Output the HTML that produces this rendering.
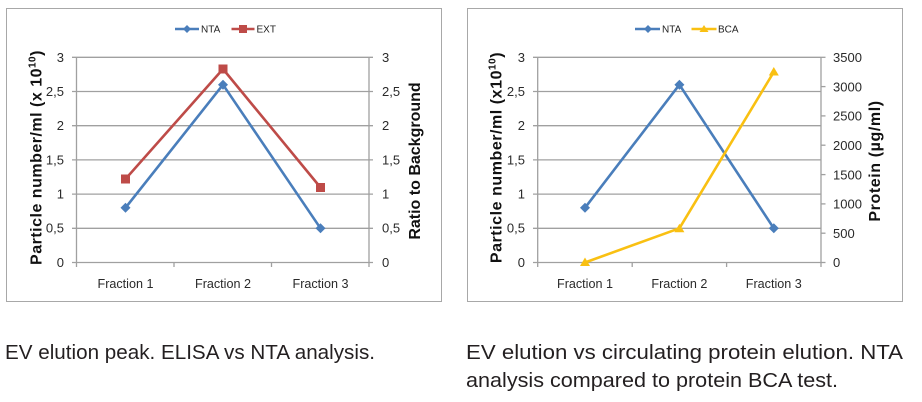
<!DOCTYPE html>
<html><head><meta charset="utf-8"><style>
html,body{margin:0;padding:0;background:#fff;}
svg{display:block;}
text{font-family:"Liberation Sans",sans-serif;}
</style></head><body>
<svg width="922" height="402" viewBox="0 0 922 402" xmlns="http://www.w3.org/2000/svg">
<rect width="922" height="402" fill="#fff"/>

<!-- ============ LEFT CHART ============ -->
<rect x="6.5" y="8.5" width="435" height="293" fill="#fff" stroke="#a8a8a8" stroke-width="1"/>
<g stroke="#a0a0a0" stroke-width="1.3" fill="none">
  <line x1="72" y1="57.3" x2="373" y2="57.3"/>
  <line x1="72" y1="91.5" x2="373" y2="91.5"/>
  <line x1="72" y1="125.7" x2="373" y2="125.7"/>
  <line x1="72" y1="159.9" x2="373" y2="159.9"/>
  <line x1="72" y1="194.1" x2="373" y2="194.1"/>
  <line x1="72" y1="228.3" x2="373" y2="228.3"/>
  <line x1="72" y1="262.5" x2="373" y2="262.5"/>
  <line x1="76.5" y1="57.3" x2="76.5" y2="267"/>
  <line x1="369" y1="57.3" x2="369" y2="267"/>
  <line x1="174" y1="262.5" x2="174" y2="267"/>
  <line x1="271.5" y1="262.5" x2="271.5" y2="267"/>
</g>
<g font-size="13" fill="#2a2a2a" text-anchor="end">
  <text x="64" y="62">3</text>
  <text x="64" y="96">2,5</text>
  <text x="64" y="130">2</text>
  <text x="64" y="164.5">1,5</text>
  <text x="64" y="198.5">1</text>
  <text x="64" y="232.5">0,5</text>
  <text x="64" y="267">0</text>
</g>
<g font-size="13" fill="#2a2a2a" text-anchor="start">
  <text x="382" y="62">3</text>
  <text x="382" y="96">2,5</text>
  <text x="382" y="130">2</text>
  <text x="382" y="164.5">1,5</text>
  <text x="382" y="198.5">1</text>
  <text x="382" y="232.5">0,5</text>
  <text x="382" y="267">0</text>
</g>
<g font-size="13" fill="#2a2a2a">
  <text x="97.5" y="288" textLength="56" lengthAdjust="spacingAndGlyphs">Fraction 1</text>
  <text x="195" y="288" textLength="56" lengthAdjust="spacingAndGlyphs">Fraction 2</text>
  <text x="292.5" y="288" textLength="56" lengthAdjust="spacingAndGlyphs">Fraction 3</text>
</g>
<text transform="translate(41.5,157.5) rotate(-90)" text-anchor="middle" font-size="16" font-weight="bold" fill="#111" letter-spacing="0.5">Particle number/ml (x 10<tspan font-size="10" dy="-6">10</tspan><tspan dy="6">)</tspan></text>
<text transform="translate(420,161) rotate(-90)" text-anchor="middle" font-size="16" font-weight="bold" fill="#111">Ratio to Background</text>
<!-- series EXT -->
<polyline points="125.5,179 223,69 320.5,187.5" fill="none" stroke="#be4b48" stroke-width="2.6" stroke-linejoin="round"/>
<rect x="121" y="174.5" width="9" height="9" fill="#be4b48"/>
<rect x="218.5" y="64.5" width="9" height="9" fill="#be4b48"/>
<rect x="316" y="183" width="9" height="9" fill="#be4b48"/>
<!-- series NTA -->
<polyline points="125.5,207.8 223,84.7 320.5,228.3" fill="none" stroke="#4a7ebb" stroke-width="2.6" stroke-linejoin="round"/>
<path d="M125.5 202.8 L130.5 207.8 L125.5 212.8 L120.5 207.8Z" fill="#4a7ebb"/>
<path d="M223 79.7 L228 84.7 L223 89.7 L218 84.7Z" fill="#4a7ebb"/>
<path d="M320.5 223.3 L325.5 228.3 L320.5 233.3 L315.5 228.3Z" fill="#4a7ebb"/>
<!-- legend -->
<line x1="175" y1="29" x2="199" y2="29" stroke="#4a7ebb" stroke-width="2.6"/>
<path d="M187 25 L191 29 L187 33 L183 29Z" fill="#4a7ebb"/>
<text x="201" y="32.5" font-size="10" fill="#222">NTA</text>
<line x1="231.5" y1="29" x2="254.5" y2="29" stroke="#be4b48" stroke-width="2.6"/>
<rect x="239" y="25" width="8" height="8" fill="#be4b48"/>
<text x="256.5" y="32.5" font-size="10" fill="#222">EXT</text>

<!-- ============ RIGHT CHART ============ -->
<rect x="467.5" y="8.5" width="435" height="293" fill="#fff" stroke="#a8a8a8" stroke-width="1"/>
<g stroke="#a0a0a0" stroke-width="1.3" fill="none">
  <line x1="533" y1="57.3" x2="821" y2="57.3"/>
  <line x1="533" y1="91.5" x2="821" y2="91.5"/>
  <line x1="533" y1="125.7" x2="821" y2="125.7"/>
  <line x1="533" y1="159.9" x2="821" y2="159.9"/>
  <line x1="533" y1="194.1" x2="821" y2="194.1"/>
  <line x1="533" y1="228.3" x2="821" y2="228.3"/>
  <line x1="533" y1="262.5" x2="821" y2="262.5"/>
  <line x1="537.7" y1="57.3" x2="537.7" y2="267"/>
  <line x1="821" y1="57.3" x2="821" y2="267"/>
  <line x1="632.2" y1="262.5" x2="632.2" y2="267"/>
  <line x1="726.6" y1="262.5" x2="726.6" y2="267"/>
  <line x1="821" y1="57.3" x2="825.5" y2="57.3"/>
  <line x1="821" y1="86.6" x2="825.5" y2="86.6"/>
  <line x1="821" y1="115.9" x2="825.5" y2="115.9"/>
  <line x1="821" y1="145.2" x2="825.5" y2="145.2"/>
  <line x1="821" y1="174.6" x2="825.5" y2="174.6"/>
  <line x1="821" y1="203.9" x2="825.5" y2="203.9"/>
  <line x1="821" y1="233.2" x2="825.5" y2="233.2"/>
  <line x1="821" y1="262.5" x2="825.5" y2="262.5"/>
</g>
<g font-size="13" fill="#2a2a2a" text-anchor="end">
  <text x="525" y="62">3</text>
  <text x="525" y="96">2,5</text>
  <text x="525" y="130">2</text>
  <text x="525" y="164.5">1,5</text>
  <text x="525" y="198.5">1</text>
  <text x="525" y="232.5">0,5</text>
  <text x="525" y="267">0</text>
</g>
<g font-size="13" fill="#2a2a2a" text-anchor="start">
  <text x="833" y="62">3500</text>
  <text x="833" y="91.3">3000</text>
  <text x="833" y="120.6">2500</text>
  <text x="833" y="149.9">2000</text>
  <text x="833" y="179.3">1500</text>
  <text x="833" y="208.6">1000</text>
  <text x="833" y="237.9">500</text>
  <text x="833" y="267">0</text>
</g>
<g font-size="13" fill="#2a2a2a">
  <text x="557" y="288" textLength="56" lengthAdjust="spacingAndGlyphs">Fraction 1</text>
  <text x="651.4" y="288" textLength="56" lengthAdjust="spacingAndGlyphs">Fraction 2</text>
  <text x="745.8" y="288" textLength="56" lengthAdjust="spacingAndGlyphs">Fraction 3</text>
</g>
<text transform="translate(501.5,157.5) rotate(-90)" text-anchor="middle" font-size="16" font-weight="bold" fill="#111" letter-spacing="0.55">Particle number/ml (x10<tspan font-size="10" dy="-6">10</tspan><tspan dy="6">)</tspan></text>
<text transform="translate(880,161) rotate(-90)" text-anchor="middle" font-size="16" font-weight="bold" fill="#111" letter-spacing="0.6">Protein (µg/ml)</text>
<!-- series NTA -->
<polyline points="585,207.8 679.4,84.7 773.8,228.3" fill="none" stroke="#4a7ebb" stroke-width="2.6" stroke-linejoin="round"/>
<path d="M585 202.8 L590 207.8 L585 212.8 L580 207.8Z" fill="#4a7ebb"/>
<path d="M679.4 79.7 L684.4 84.7 L679.4 89.7 L674.4 84.7Z" fill="#4a7ebb"/>
<path d="M773.8 223.3 L778.8 228.3 L773.8 233.3 L768.8 228.3Z" fill="#4a7ebb"/>
<!-- series BCA -->
<polyline points="585,262.5 679.4,228.3 773.8,72" fill="none" stroke="#f9c012" stroke-width="2.6" stroke-linejoin="round"/>
<path d="M585 257.5 L590 266 L580 266Z" fill="#f9c012"/>
<path d="M679.4 223.8 L684.4 232.3 L674.4 232.3Z" fill="#f9c012"/>
<path d="M773.8 67 L778.8 75.5 L768.8 75.5Z" fill="#f9c012"/>
<!-- legend -->
<line x1="635" y1="29" x2="660" y2="29" stroke="#4a7ebb" stroke-width="2.6"/>
<path d="M648 25 L652 29 L648 33 L644 29Z" fill="#4a7ebb"/>
<text x="662" y="32.5" font-size="10" fill="#222">NTA</text>
<line x1="691.5" y1="29" x2="716.5" y2="29" stroke="#f9c012" stroke-width="2.6"/>
<path d="M704 25 L708.5 32 L699.5 32Z" fill="#f9c012"/>
<text x="718" y="32.5" font-size="10" fill="#222">BCA</text>

<!-- ============ CAPTIONS ============ -->
<g font-size="20.5" fill="#231f20">
  <text x="5" y="359" textLength="370" lengthAdjust="spacingAndGlyphs">EV elution peak. ELISA vs NTA analysis.</text>
  <text x="466" y="359" textLength="437" lengthAdjust="spacingAndGlyphs">EV elution vs circulating protein elution. NTA</text>
  <text x="466" y="387" textLength="372" lengthAdjust="spacingAndGlyphs">analysis compared to protein BCA test.</text>
</g>
</svg>
</body></html>
